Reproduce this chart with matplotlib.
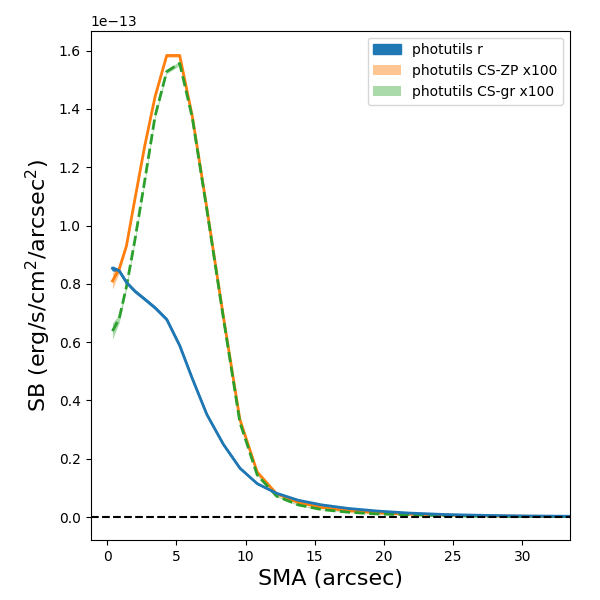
import matplotlib
matplotlib.use("Agg")
import matplotlib.pyplot as plt
import numpy as np

# semi-major axis (arcsec)
sma = np.array([0.38, 0.86, 1.39, 2.0, 2.7, 3.46, 4.30, 5.24, 6.15, 7.2, 8.39,
                9.59, 10.84, 12.24, 13.8, 15.5, 17.4, 19.5, 21.8, 24.4, 27.3,
                30.3, 33.45])

# surface brightness, units of 1e-13 erg/s/cm2/arcsec2
sb_r = np.array([0.853, 0.845, 0.805, 0.775, 0.748, 0.718, 0.678, 0.588, 0.475,
                 0.352, 0.250, 0.168, 0.115, 0.082, 0.058, 0.042, 0.030, 0.021,
                 0.014, 0.009, 0.006, 0.004, 0.003])
err_r = np.array([0.006, 0.004, 0.003, 0.003, 0.003, 0.003, 0.003, 0.003, 0.002,
                  0.002, 0.002, 0.002, 0.001, 0.001, 0.001, 0.001, 0.001, 0.001,
                  0.001, 0.001, 0.001, 0.001, 0.001])

sb_zp = np.array([0.81, 0.85, 0.93, 1.09, 1.27, 1.442, 1.583, 1.583, 1.375,
                  1.06, 0.69, 0.335, 0.155, 0.080, 0.050, 0.033, 0.022, 0.015,
                  0.010, 0.007, 0.004, 0.003, 0.002])
err_zp = np.array([0.028, 0.012, 0.008, 0.007, 0.007, 0.007, 0.006, 0.006, 0.006,
                   0.005, 0.005, 0.004, 0.003, 0.002, 0.002, 0.001, 0.001, 0.001,
                   0.001, 0.001, 0.001, 0.001, 0.001])

sb_gr = np.array([0.638, 0.68, 0.79, 0.95, 1.15, 1.375, 1.528, 1.556, 1.37,
                  1.055, 0.685, 0.325, 0.145, 0.072, 0.042, 0.026, 0.017, 0.011,
                  0.008, 0.005, 0.003, 0.002, 0.002])
err_gr = np.array([0.028, 0.014, 0.009, 0.008, 0.008, 0.008, 0.007, 0.007, 0.006,
                   0.005, 0.005, 0.004, 0.003, 0.002, 0.002, 0.001, 0.001, 0.001,
                   0.001, 0.001, 0.001, 0.001, 0.001])

scale = 1e-13

fig = plt.figure(figsize=(6, 6), dpi=100)
ax = fig.add_subplot(111)
fig.subplots_adjust(left=0.151, right=0.95, top=0.949, bottom=0.1)

ax.fill_between(sma, (sb_r - err_r) * scale, (sb_r + err_r) * scale,
                color="C0", label="photutils r")
ax.fill_between(sma, (sb_zp - err_zp) * scale, (sb_zp + err_zp) * scale,
                color="C1", alpha=0.45, lw=0, label="photutils CS-ZP x100")
ax.fill_between(sma, (sb_gr - err_gr) * scale, (sb_gr + err_gr) * scale,
                color="C2", alpha=0.4, lw=0, label="photutils CS-gr x100")

ax.plot(sma, sb_zp * scale, color="C1", lw=2)
ax.plot(sma, sb_gr * scale, color="C2", lw=2, ls="--")
ax.plot(sma, sb_r * scale, color="C0", lw=2)

ax.axhline(0, color="k", ls="--", lw=1.5)

ax.set_xlim(-1.2, sma[-1])
ax.set_xlabel("SMA (arcsec)", fontsize=16)
ax.set_ylabel("SB (erg/s/cm$^2$/arcsec$^2$)", fontsize=16)
ax.legend(loc="upper right")

fig.savefig("out.png", dpi=100)
